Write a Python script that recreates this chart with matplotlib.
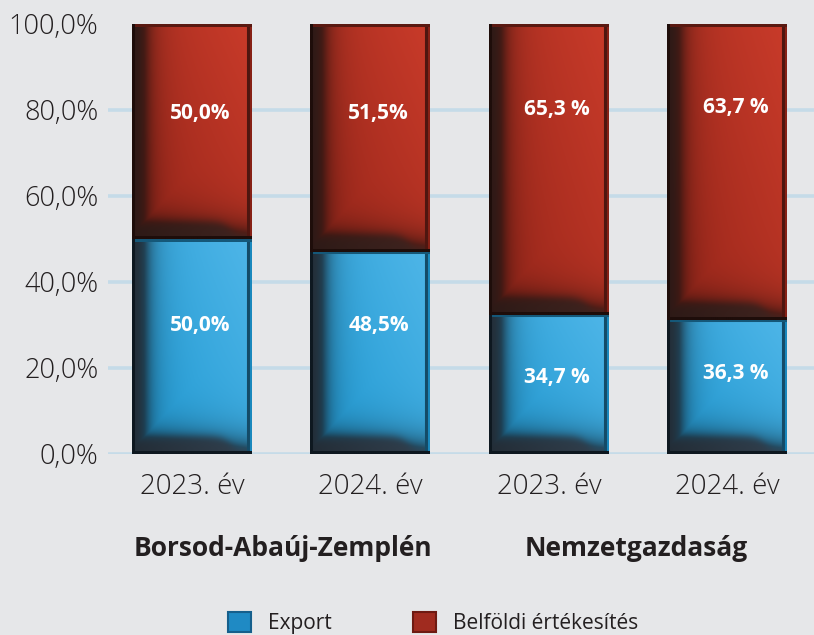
import numpy as np
import matplotlib
matplotlib.use('Agg')
import matplotlib.pyplot as plt
from matplotlib.patches import Rectangle
from matplotlib.colors import to_rgb

plt.rcParams['font.family'] = ['Open Sans', 'DejaVu Sans']

# adatok
years = ['2023. év', '2024. év', '2023. év', '2024. év']
groups = ['Borsod-Abaúj-Zemplén', 'Nemzetgazdaság']
export = [50.0, 47.0, 32.4, 31.2]
export_labels = ['50,0%', '48,5%', '34,7 %', '36,3 %']
belfold_labels = ['50,0%', '51,5%', '65,3 %', '63,7 %']
series = ['Export', 'Belföldi értékesítés']

BG = '#e6e7e9'
PX_X = 178.5   # pixel / x egység
PX_Y = 4.30    # pixel / %


def sig(z):
    return 1 / (1 + np.exp(-z))


def shaded(base, light, dark, bevel, w_px, h_px):
    """Domború, 3D hatású téglalap kitöltése"""
    w_px, h_px = max(int(w_px), 2), max(int(h_px), 2)
    lx = np.arange(w_px)[None, :] + 0.5
    by = np.arange(h_px)[:, None] + 0.5
    rx = w_px - lx
    ty = h_px - by
    b = np.array(to_rgb(base))
    li = np.array(to_rgb(light))
    d = np.array(to_rgb(dark))
    bv = np.array(to_rgb(bevel))
    # test: világosabb jobb-fent
    g = np.clip(0.55 * (lx / w_px) + 0.45 * (by / h_px), 0, 1)[..., None]
    col = b * (1 - g) + li * g
    # árnyék a peremek mellett
    sh = np.maximum(np.exp(-(lx - 12) / 12.0), np.exp(-(by - 18) / 14.0) * (1 - 0.6 * lx / w_px))
    sh = np.clip(sh, 0, 1)[..., None] * 0.6
    col = col * (1 - sh) + d * sh
    # bal és alsó ferde perem
    band_h = 17 * (1 - 0.75 * sig((lx - (w_px - 22)) / 5))
    m = np.maximum(sig((12 - lx) / 3.0), sig((band_h - by) / 2.5))
    m = np.clip(m, 0, 1)[..., None]
    bev = bv * (0.8 + 0.35 * (lx / w_px))[..., None] * np.ones_like(by)[..., None]
    col = col * (1 - m) + np.clip(bev, 0, 1) * m
    # keret
    out = (lx < 3) | (by < 3)
    col[out] = d
    inner_r = (rx >= 2.5) & (rx < 5)
    col[inner_r & ~out] = d * 0.6 + b * 0.4
    right = rx < 2.5
    col[right & ~out] = b * 0.9
    top = ty < 3
    col[top & ~out] = d * 0.5 + b * 0.5
    return np.clip(col, 0, 1)


fig = plt.figure(figsize=(8.14, 6.35), dpi=100, facecolor=BG)
ax = fig.add_axes([108 / 814, 181 / 635, 706 / 814, 430 / 635], facecolor=BG)

x = np.arange(len(years))
width = 0.672
ax.set_xlim(-0.47, 3.485)
ax.set_ylim(0, 100)

for gy in range(0, 100, 20):
    ax.axhline(gy, color='#c5dbe8', lw=2.6, zorder=1)

for i in range(len(years)):
    x0, x1 = x[i] - width / 2, x[i] + width / 2
    e = export[i]
    img = shaded('#1d98d2', '#4fb6e8', '#0e1820', '#2c3844', width * PX_X, e * PX_Y)
    ax.imshow(img, extent=(x0, x1, 0, e), origin='lower', aspect='auto',
              interpolation='bilinear', zorder=2)
    img = shaded('#962519', '#c93b2a', '#1e0d0a', '#38201c', width * PX_X, (100 - e) * PX_Y)
    ax.imshow(img, extent=(x0, x1, e, 100), origin='lower', aspect='auto',
              interpolation='bilinear', zorder=2)

# feliratok
red_y = [79.3, 79.3, 80.0, 80.5]
blue_y = [30.0, 30.0, 17.7, 18.8]
for i in range(len(years)):
    ax.text(x[i] + 0.045, red_y[i], belfold_labels[i], color='white', ha='center',
            va='center', fontsize=15, fontweight='bold', zorder=3)
    ax.text(x[i] + 0.045, blue_y[i], export_labels[i], color='white', ha='center',
            va='center', fontsize=15, fontweight='bold', zorder=3)

ax.set_xticks(x)
ax.set_xticklabels(years, fontsize=20, color='#231f20', fontweight='light')
ax.set_yticks(range(0, 101, 20))
ax.set_yticklabels([f'{v},0%' for v in range(0, 101, 20)], fontsize=19.5,
                   color='#231f20', fontweight='light')
ax.tick_params(length=0, pad=7)
ax.tick_params(axis='x', pad=14)
for s in ax.spines.values():
    s.set_visible(False)

fig.text(283 / 814, 1 - 548 / 635, groups[0], ha='center', va='center',
         fontsize=19, fontweight='bold', color='#231f20')
fig.text(636 / 814, 1 - 548 / 635, groups[1], ha='center', va='center',
         fontsize=19, fontweight='bold', color='#231f20')

handles = [Rectangle((0, 0), 1, 1, facecolor='#1f8ac4', edgecolor='#155f8c', lw=1.5),
           Rectangle((0, 0), 1, 1, facecolor='#a02b1f', edgecolor='#6e1a12', lw=1.5)]
fig.legend(handles, series, loc='center', bbox_to_anchor=(0.532, 0.019),
           ncol=2, frameon=False, fontsize=15, handlelength=1.1, handleheight=1.1,
           columnspacing=3.9, handletextpad=0.8, labelcolor='#231f20',
           borderpad=0.2)

fig.savefig('out.png', dpi=100, facecolor=BG)
